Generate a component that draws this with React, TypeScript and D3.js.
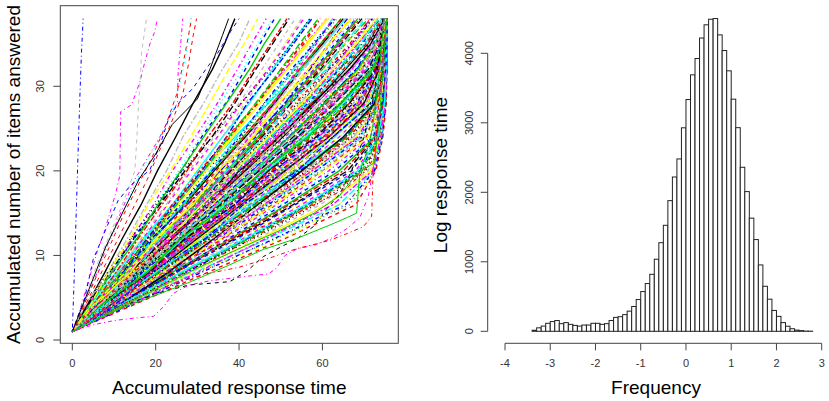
import React from "react";
import * as d3 from "d3";

// ---------- Left panel data: accumulated response time per examinee ----------
// item counts at which each examinee's accumulated time is read
const ITEM_KNOTS = [1, 4, 8, 12, 16, 20, 24, 28, 32, 35, 38];
const START_TIME = 0;

// accumulated time (s) at items 4, 8, 12, 16, 20, 24, 28, 32, 35, 38
const FAST_TIMES: number[][] = [
  [3.4, 7.8, 12.0, 16.5, 20.4, 24.8, 29.0, 33.6, 36.5, 39.0],
  [3.0, 8.5, 13.2, 17.8, 22.6, 26.5, 31.5, 36.0, 39.8, 42.6],
  [4.2, 8.6, 13.8, 18.2, 23.5, 28.4, 33.0, 37.5, 41.2, 44.5],
  [3.6, 9.5, 14.2, 19.5, 24.0, 29.5, 34.8, 39.6, 43.0, 46.5],
  [4.5, 9.0, 15.0, 20.0, 25.5, 30.6, 35.5, 40.8, 44.5, 48.0],
  [3.8, 9.8, 14.5, 20.8, 26.2, 31.0, 36.8, 41.5, 45.0, 48.5],
  [4.0, 9.5, 15.5, 20.5, 26.0, 31.5, 37.0, 42.5, 46.0, 50.0],
  [4.8, 10.5, 15.8, 21.5, 27.5, 32.5, 38.5, 43.5, 47.5, 51.5],
  [3.5, 9.0, 14.8, 21.0, 27.0, 33.5, 39.0, 44.0, 48.0, 52.0],
  [5.0, 11.0, 16.5, 22.5, 28.0, 34.0, 40.0, 45.5, 49.5, 53.5],
  [4.2, 10.0, 16.8, 23.0, 29.5, 35.0, 41.0, 46.5, 51.0, 55.0],
  [5.5, 11.5, 17.0, 22.8, 28.5, 34.8, 40.5, 47.0, 51.5, 55.5],
  [4.5, 11.0, 17.5, 24.0, 30.0, 36.0, 42.5, 48.0, 52.5, 57.0],
  [6.0, 12.0, 18.0, 24.5, 31.0, 37.0, 42.0, 48.5, 53.0, 57.5],
  [4.8, 11.5, 18.5, 25.0, 31.5, 37.5, 44.0, 50.0, 54.5, 59.0],
  [5.2, 12.5, 18.0, 24.0, 30.5, 37.8, 44.5, 50.5, 55.0, 59.5],
  [3.5, 8.5, 14.0, 20.0, 26.5, 33.5, 40.5, 47.5, 52.5, 57.0],
  [6.5, 13.5, 19.5, 25.0, 30.5, 36.0, 41.5, 47.0, 51.0, 55.0],
];

const MEDIUM_TIMES: number[][] = [
  [5.0, 12.0, 19.0, 25.5, 32.0, 38.5, 45.0, 51.5, 56.5, 61.0],
  [5.8, 11.5, 18.0, 25.0, 31.5, 38.0, 44.0, 51.0, 56.0, 61.0],
  [4.5, 12.5, 19.5, 26.5, 33.0, 39.5, 46.5, 53.0, 58.0, 62.5],
  [5.5, 12.0, 18.5, 26.0, 33.5, 40.0, 46.0, 52.5, 58.0, 63.0],
  [6.2, 13.0, 20.0, 27.0, 33.5, 40.5, 47.0, 53.5, 58.5, 63.5],
  [5.0, 13.0, 20.5, 27.5, 34.5, 41.0, 48.0, 54.5, 59.5, 64.5],
  [6.0, 12.5, 19.5, 27.0, 34.0, 41.5, 48.5, 55.0, 60.0, 65.0],
  [5.5, 13.5, 21.0, 28.0, 35.0, 42.0, 49.0, 55.5, 60.5, 65.5],
  [4.8, 12.8, 20.5, 28.5, 36.0, 43.0, 49.5, 56.5, 61.5, 66.5],
  [6.5, 14.0, 21.5, 28.5, 35.5, 42.5, 50.0, 56.5, 62.0, 66.8],
  [5.2, 13.0, 21.5, 29.5, 36.5, 43.5, 50.5, 57.5, 62.5, 67.5],
  [6.0, 14.5, 22.0, 29.0, 36.5, 44.0, 51.0, 58.0, 63.0, 68.0],
  [5.0, 12.5, 20.5, 29.0, 37.0, 44.5, 51.5, 58.5, 63.5, 68.5],
  [6.8, 14.0, 21.5, 29.5, 37.5, 45.0, 52.0, 59.0, 64.0, 69.0],
  [5.5, 13.8, 22.5, 30.5, 38.0, 45.5, 52.5, 59.5, 64.5, 69.5],
  [6.2, 14.8, 22.8, 30.5, 38.5, 46.0, 53.0, 60.0, 65.0, 70.0],
  [5.0, 13.5, 22.0, 30.0, 38.0, 46.5, 53.5, 60.5, 65.5, 70.5],
  [7.0, 15.0, 23.0, 30.0, 36.5, 42.5, 48.5, 54.0, 58.5, 62.5],
  [4.0, 10.5, 17.0, 24.0, 31.5, 39.0, 47.0, 55.0, 60.5, 65.5],
  [5.8, 12.2, 19.0, 27.5, 35.5, 43.5, 51.0, 57.0, 61.5, 66.0],
  [6.0, 13.5, 21.5, 29.5, 37.5, 45.0, 52.5, 60.0, 65.5, 71.0],
  [5.5, 14.0, 22.0, 30.0, 38.0, 45.5, 53.5, 61.0, 66.5, 71.5],
  [6.5, 14.5, 22.5, 30.5, 38.5, 46.5, 54.0, 61.5, 67.0, 72.0],
  [5.8, 13.5, 22.0, 30.5, 38.5, 46.8, 54.5, 62.0, 67.5, 72.5],
  [6.2, 14.5, 23.0, 31.0, 39.0, 47.0, 55.0, 62.5, 68.0, 73.0],
  [5.5, 14.0, 22.5, 31.5, 40.0, 48.0, 55.5, 63.0, 68.5, 73.2],
  [7.0, 15.0, 23.0, 31.0, 39.5, 47.5, 56.0, 63.5, 69.0, 73.5],
  [6.0, 15.0, 23.5, 32.0, 40.5, 48.5, 56.5, 64.0, 69.5, 73.8],
  [6.5, 14.2, 22.8, 31.8, 40.0, 49.0, 57.0, 64.5, 70.0, 74.0],
  [5.8, 14.8, 24.0, 32.5, 41.0, 49.5, 57.5, 65.0, 70.5, 74.2],
  [7.2, 15.5, 24.0, 32.5, 41.0, 49.5, 58.0, 65.5, 71.0, 74.5],
  [6.0, 15.0, 24.5, 33.0, 42.0, 50.0, 58.5, 66.0, 71.2, 74.6],
  [6.8, 16.0, 24.5, 33.5, 42.0, 50.5, 58.5, 66.5, 71.5, 74.8],
  [5.5, 14.5, 23.8, 33.0, 42.5, 51.0, 59.5, 67.0, 71.8, 75.0],
  [7.5, 16.5, 25.0, 34.0, 42.5, 51.5, 60.0, 67.5, 72.0, 75.0],
  [6.2, 15.2, 24.5, 34.0, 43.0, 52.0, 60.5, 68.0, 72.2, 75.1],
  [6.8, 15.8, 25.5, 34.5, 43.5, 52.0, 60.5, 68.5, 72.5, 75.2],
  [5.8, 15.5, 25.0, 34.0, 43.8, 52.5, 61.0, 69.0, 72.8, 75.2],
  [7.0, 16.2, 25.8, 35.0, 44.0, 53.0, 61.5, 69.5, 73.0, 75.3],
  [6.5, 16.0, 25.0, 34.5, 44.5, 53.5, 62.0, 70.0, 73.2, 75.3],
  [8.0, 17.0, 25.5, 33.5, 41.0, 48.5, 55.5, 62.5, 67.5, 72.5],
  [5.0, 13.0, 21.5, 30.5, 39.5, 49.0, 58.5, 67.0, 72.0, 75.0],
  [6.0, 14.8, 24.2, 32.8, 41.0, 48.8, 57.2, 65.2, 70.2, 74.4],
  [7.8, 16.8, 25.2, 34.2, 43.2, 51.8, 60.2, 68.2, 72.6, 75.2],
  [6.4, 14.0, 22.2, 30.8, 39.6, 47.4, 55.8, 63.6, 69.2, 73.6],
];

const WIGGLY_TIMES: number[][] = [
  [5.5, 11.0, 18.5, 24.0, 31.5, 37.0, 44.5, 50.0, 55.5, 59.5],
  [4.2, 12.0, 18.0, 26.5, 32.0, 40.5, 46.0, 53.5, 57.5, 63.0],
  [6.5, 12.5, 21.0, 27.0, 35.5, 41.0, 49.0, 55.0, 60.5, 64.5],
  [5.0, 14.0, 20.0, 29.0, 35.0, 43.5, 49.5, 57.5, 61.5, 67.0],
  [6.8, 13.5, 22.5, 28.5, 37.5, 43.5, 52.5, 58.0, 64.0, 68.0],
  [5.2, 14.8, 21.0, 30.5, 37.0, 46.0, 52.0, 61.0, 65.0, 70.5],
  [7.0, 14.0, 23.5, 30.0, 39.5, 46.0, 55.0, 61.5, 67.5, 72.0],
  [5.5, 15.5, 22.0, 32.0, 38.5, 48.0, 54.5, 64.0, 68.5, 73.5],
  [7.5, 14.5, 24.5, 31.0, 41.0, 47.5, 57.0, 64.0, 70.5, 74.5],
  [5.8, 16.0, 23.0, 33.0, 40.0, 50.0, 57.5, 66.5, 71.5, 75.0],
  [7.8, 15.0, 25.5, 32.5, 42.5, 50.0, 59.5, 67.0, 72.5, 75.2],
  [6.0, 16.5, 24.0, 34.5, 42.0, 52.0, 59.5, 69.0, 73.0, 75.3],
  [8.0, 15.5, 26.5, 34.0, 44.5, 52.0, 62.0, 70.0, 73.8, 75.4],
  [6.2, 17.0, 25.0, 36.0, 43.5, 54.5, 62.0, 71.0, 74.0, 75.5],
  [8.5, 16.5, 27.5, 35.5, 46.5, 54.0, 64.5, 71.5, 74.3, 75.4],
  [6.5, 18.0, 26.0, 37.5, 45.5, 56.5, 64.5, 72.0, 74.5, 75.5],
  [8.8, 17.0, 28.5, 36.5, 48.0, 56.0, 66.5, 72.5, 74.7, 75.5],
  [6.8, 18.5, 27.0, 39.0, 47.0, 58.5, 66.5, 72.8, 74.9, 75.5],
  [9.0, 17.5, 29.5, 38.0, 50.0, 58.0, 68.5, 73.2, 75.0, 75.5],
  [7.0, 19.5, 28.0, 40.5, 49.0, 61.0, 69.0, 73.5, 75.1, 75.5],
  [9.5, 18.0, 30.5, 39.5, 52.0, 60.5, 70.5, 73.8, 75.2, 75.5],
  [7.2, 20.0, 29.0, 42.0, 50.5, 63.0, 71.0, 74.0, 75.3, 75.5],
  [9.8, 19.0, 32.0, 41.0, 54.0, 62.5, 72.0, 74.3, 75.3, 75.5],
  [7.5, 21.0, 30.5, 44.0, 53.0, 66.0, 72.5, 74.5, 75.4, 75.5],
  [10.0, 20.0, 33.5, 43.0, 57.0, 65.5, 73.0, 74.7, 75.4, 75.5],
  [8.0, 22.5, 32.0, 46.5, 56.0, 69.0, 73.3, 74.9, 75.4, 75.5],
  [10.5, 21.5, 35.5, 45.5, 60.0, 69.5, 73.6, 75.0, 75.5, 75.5],
  [4.8, 11.8, 17.5, 25.0, 30.8, 38.2, 44.0, 51.5, 56.0, 61.5],
  [6.0, 14.5, 23.5, 32.5, 41.0, 49.0, 56.0, 62.5, 67.0, 71.5],
  [7.0, 16.0, 25.5, 35.0, 44.0, 53.5, 63.0, 70.5, 73.8, 75.4],
  [8.0, 18.5, 28.0, 38.0, 48.5, 58.0, 67.5, 72.8, 74.8, 75.5],
  [8.5, 20.0, 31.0, 42.5, 53.5, 64.0, 72.0, 74.4, 75.3, 75.5],
  [5.5, 13.0, 20.5, 28.5, 36.0, 43.5, 51.0, 58.5, 63.5, 68.5],
  [6.5, 15.5, 24.0, 33.0, 41.5, 50.5, 58.5, 66.5, 71.5, 74.8],
  [6.2, 15.8, 25.5, 34.5, 43.5, 52.5, 61.5, 69.5, 73.0, 75.3],
  [7.5, 17.0, 27.0, 37.0, 46.5, 56.0, 66.0, 72.2, 74.5, 75.4],
  [8.2, 19.0, 29.5, 40.5, 51.0, 61.5, 70.5, 73.6, 75.1, 75.5],
  [9.2, 22.0, 34.5, 46.5, 58.0, 68.5, 73.2, 74.9, 75.4, 75.5],
  [11.0, 25.0, 39.5, 53.5, 67.0, 73.0, 74.7, 75.3, 75.5, 75.5],
  [5.8, 12.8, 19.5, 26.5, 33.5, 41.0, 48.0, 54.5, 59.5, 64.5],
];

const SLOW_TIMES: number[][] = [
  [7.0, 16.5, 25.5, 35.0, 44.5, 53.5, 62.5, 70.5, 73.5, 75.3],
  [6.5, 15.8, 25.8, 35.5, 44.8, 54.0, 63.0, 71.0, 73.8, 75.4],
  [7.5, 16.8, 26.5, 35.5, 45.0, 54.5, 63.5, 71.2, 74.0, 75.3],
  [6.8, 16.5, 26.0, 36.0, 45.5, 55.0, 64.0, 71.5, 74.2, 75.4],
  [7.2, 17.0, 27.0, 36.5, 46.0, 55.5, 64.5, 71.8, 74.0, 75.5],
  [8.0, 17.5, 26.8, 36.5, 46.5, 56.0, 65.0, 72.0, 74.5, 75.3],
  [6.5, 16.8, 27.0, 37.0, 47.0, 56.5, 65.5, 72.0, 74.3, 75.5],
  [7.5, 17.5, 27.5, 37.5, 47.0, 57.0, 66.0, 72.3, 74.6, 75.4],
  [8.2, 18.0, 27.8, 37.5, 47.5, 57.5, 66.5, 72.5, 74.5, 75.5],
  [7.0, 17.2, 27.5, 38.0, 48.0, 58.0, 67.0, 72.5, 74.8, 75.3],
  [7.8, 18.0, 28.5, 38.5, 48.5, 58.0, 67.5, 72.8, 74.6, 75.5],
  [6.8, 17.5, 28.0, 38.5, 49.0, 58.5, 68.0, 73.0, 74.8, 75.4],
  [7.5, 18.5, 28.5, 39.0, 49.0, 59.0, 68.5, 73.0, 74.9, 75.5],
  [8.5, 18.8, 29.0, 39.5, 49.5, 59.5, 68.8, 73.2, 74.7, 75.3],
  [7.2, 18.0, 29.0, 39.8, 50.0, 60.0, 69.0, 73.2, 75.0, 75.5],
  [8.0, 19.0, 29.5, 40.0, 50.5, 60.5, 69.5, 73.4, 74.8, 75.4],
  [7.0, 17.8, 28.8, 40.0, 51.0, 61.0, 69.8, 73.5, 75.0, 75.5],
  [8.8, 19.5, 30.0, 40.5, 51.0, 61.5, 70.0, 73.6, 75.1, 75.5],
  [7.8, 18.8, 30.0, 41.0, 51.5, 62.0, 70.5, 73.8, 75.0, 75.4],
  [8.5, 19.8, 30.5, 41.5, 52.0, 62.0, 70.8, 73.7, 75.2, 75.5],
  [9.0, 19.0, 28.5, 37.5, 46.0, 54.5, 62.8, 70.5, 73.5, 75.2],
  [6.0, 15.0, 24.5, 34.5, 45.0, 55.5, 65.5, 72.2, 74.4, 75.4],
  [7.6, 18.2, 28.2, 38.8, 48.4, 58.8, 68.2, 72.9, 74.7, 75.5],
  [7.4, 16.6, 26.2, 36.0, 45.8, 55.2, 64.2, 71.6, 74.1, 75.3],
  [8.4, 18.6, 29.2, 39.6, 50.2, 60.2, 69.2, 73.3, 74.9, 75.5],
  [8.0, 19.0, 30.0, 41.5, 52.0, 62.5, 71.5, 74.0, 75.0, 75.5],
  [8.8, 20.0, 30.5, 41.0, 52.5, 63.0, 71.8, 74.2, 75.1, 75.5],
  [7.5, 19.5, 31.0, 42.0, 53.0, 64.0, 72.0, 74.3, 75.2, 75.5],
  [9.0, 20.5, 31.5, 42.5, 53.5, 64.0, 72.2, 74.5, 75.3, 75.5],
  [8.2, 20.0, 31.5, 43.0, 54.0, 65.0, 72.3, 74.4, 75.2, 75.5],
  [9.5, 21.0, 32.0, 43.5, 54.5, 65.5, 72.5, 74.6, 75.3, 75.5],
  [8.0, 20.5, 32.5, 44.0, 55.0, 66.0, 72.6, 74.5, 75.2, 75.5],
  [9.2, 21.5, 33.0, 44.5, 55.5, 66.5, 72.8, 74.7, 75.4, 75.5],
  [8.5, 21.0, 33.0, 45.0, 56.5, 67.0, 72.9, 74.8, 75.3, 75.5],
  [10.0, 22.0, 33.5, 45.0, 56.5, 67.5, 73.0, 74.8, 75.4, 75.5],
  [8.8, 21.5, 34.0, 46.0, 57.5, 68.0, 73.1, 74.9, 75.3, 75.5],
  [9.5, 22.5, 34.5, 46.0, 57.5, 68.5, 73.2, 75.0, 75.4, 75.5],
  [8.2, 21.0, 33.8, 46.5, 58.5, 69.0, 73.3, 74.9, 75.4, 75.5],
  [10.2, 23.0, 35.0, 47.0, 58.5, 69.5, 73.4, 75.0, 75.3, 75.5],
  [9.0, 22.5, 35.5, 47.5, 59.5, 70.0, 73.5, 75.1, 75.4, 75.5],
  [9.8, 23.5, 36.0, 48.0, 60.0, 70.5, 73.6, 75.0, 75.4, 75.5],
  [11.0, 23.0, 34.0, 44.5, 55.0, 65.0, 72.5, 74.6, 75.3, 75.5],
  [7.0, 18.5, 30.5, 43.0, 55.5, 67.5, 73.0, 74.8, 75.4, 75.5],
];

const SLOWEST_TIMES: number[][] = [
  [9.5, 22.5, 35.5, 48.5, 60.5, 71.0, 73.8, 75.1, 75.4, 75.5],
  [10.0, 23.5, 36.5, 49.0, 61.5, 71.5, 74.0, 75.2, 75.4, 75.5],
  [9.0, 23.0, 36.5, 50.0, 62.5, 72.0, 74.2, 75.1, 75.4, 75.5],
  [10.5, 24.5, 37.5, 50.5, 63.0, 72.2, 74.3, 75.2, 75.5, 75.5],
  [9.8, 24.0, 38.0, 51.5, 64.0, 72.5, 74.4, 75.2, 75.4, 75.5],
  [11.0, 25.0, 38.5, 52.0, 65.0, 72.7, 74.5, 75.3, 75.5, 75.5],
  [10.0, 24.5, 39.0, 53.0, 66.0, 72.8, 74.6, 75.2, 75.4, 75.5],
  [11.5, 26.0, 40.0, 53.5, 66.5, 73.0, 74.7, 75.3, 75.5, 75.5],
  [10.5, 25.5, 40.5, 54.5, 67.5, 73.1, 74.8, 75.3, 75.4, 75.5],
  [12.0, 27.0, 41.0, 55.0, 68.0, 73.2, 74.8, 75.4, 75.5, 75.5],
  [10.8, 26.0, 41.5, 56.0, 68.5, 73.3, 74.9, 75.3, 75.5, 75.5],
  [11.8, 27.5, 42.0, 56.5, 69.0, 73.4, 75.0, 75.4, 75.5, 75.5],
  [11.0, 26.5, 42.5, 57.0, 69.5, 73.5, 74.9, 75.3, 75.5, 75.5],
  [12.5, 28.0, 43.0, 57.5, 70.0, 73.6, 75.0, 75.4, 75.5, 75.5],
  [11.5, 27.0, 43.5, 58.5, 70.5, 73.6, 74.9, 75.3, 75.5, 75.5],
  [12.5, 28.5, 44.5, 59.5, 71.0, 73.8, 75.0, 75.4, 75.5, 75.5],
  [11.8, 28.0, 45.0, 61.0, 71.5, 73.9, 75.1, 75.4, 75.5, 75.5],
  [13.0, 30.0, 46.5, 62.5, 72.0, 74.0, 75.1, 75.4, 75.5, 75.5],
  [12.2, 29.5, 47.0, 64.0, 72.2, 74.2, 75.2, 75.5, 75.5, 75.5],
  [13.5, 31.0, 48.5, 65.5, 72.5, 74.3, 75.2, 75.4, 75.5, 75.5],
  [12.8, 30.5, 49.0, 66.5, 72.6, 74.4, 75.3, 75.5, 75.5, 75.5],
  [14.0, 32.5, 51.0, 68.0, 72.8, 74.5, 75.3, 75.5, 75.5, 75.5],
];

// irregular examinees, as (time, items) pairs
const OUTLIER_PATHS: [number, number][][] = [
  [[0, 1], [0.5, 8], [1.0, 16], [1.5, 24], [1.9, 30], [2.2, 34], [2.6, 38]],
  [[0, 1], [1.5, 3], [3, 5.5], [4.5, 8], [6, 10.5], [7.5, 12.5], [9, 15], [10.5, 17.5], [11.4, 19.5], [11.6, 27], [14.2, 27.8], [16.2, 30.5], [17.2, 32.5], [18.6, 35], [19.8, 36.5], [20.4, 38]],
  [[0, 1], [3, 5], [6, 9], [9, 12.5], [12, 16], [15, 20], [15.5, 24], [15.9, 28], [16.4, 31.5], [16.6, 34], [17.2, 36], [17.8, 38]],
  [[0, 1], [3, 4.5], [6, 8], [9, 12], [12, 15.5], [15, 19], [18, 21.5], [21, 24], [23.5, 26.5], [25.2, 28], [25.4, 31.7], [26, 35], [26.5, 38]],
  [[0, 1], [4, 5.5], [8, 10], [12, 14.5], [16, 18.5], [19.5, 22], [22.5, 25.5], [25, 29], [26.5, 32.5], [27.5, 35], [28.6, 38]],
  [[0, 1], [4, 6], [8, 10.5], [12, 15], [16, 19.5], [20, 23], [23, 26], [25.5, 29.5], [27, 33], [28, 36], [28.3, 38]],
  [[0, 1], [5, 6], [10, 11], [14, 15], [18, 19], [21, 22.5], [24, 26], [26.5, 29], [28, 33], [29, 36], [29.8, 38]],
  [[0, 1], [3, 5], [5, 9.5], [8.3, 13.4], [11, 16.5], [14, 18.3], [18.6, 20.1], [21, 23], [23.4, 26.6], [26, 28.3], [29, 29.8], [32, 32], [34.6, 33.7], [38, 36.5], [40, 38]],
  [[0, 1], [4, 6], [8, 11], [12, 15], [16, 19], [20, 22], [24, 25.5], [27, 27], [30, 28.5], [33, 32], [36, 36], [37.5, 38]],
  [[0, 1], [6, 2.5], [12, 4], [20, 5.5], [28, 6.5], [37.8, 6.9], [42, 8.2], [45.8, 9.85], [50, 11], [54, 12], [57.8, 13.4], [61, 15.5], [64.2, 17.3], [67, 20], [70, 24], [72, 28], [73.5, 33], [74.5, 38]],
  [[0, 1], [5, 1.8], [10, 2.3], [15, 2.6], [19.5, 2.8], [22, 4], [24.2, 5.5], [28, 6.5], [33, 7], [38, 7.3], [43, 7.6], [47, 7.8], [49, 8.5], [51, 10], [54, 10.8], [58, 11.2], [62, 12], [66, 13.2], [69, 14.5], [71, 17], [72.5, 21], [73.5, 28], [74.5, 34], [75.3, 38]],
  [[0, 1], [6, 2.8], [12, 4.2], [18, 5.5], [25, 6.8], [32, 7.8], [40, 8.6], [48, 9.8], [53.8, 10.8], [58, 11.3], [61.8, 11.8], [66, 12.6], [69.8, 13.4], [71.8, 14.6], [72.2, 20.5], [73, 26], [74, 32], [75, 38]],
  [[0, 1], [6, 2.5], [12, 3.8], [20, 5.3], [28, 6.8], [37.8, 8.9], [45.8, 10.7], [53.8, 12.0], [61.8, 13.6], [66, 14.5], [68.2, 15], [68.6, 17.5], [69, 20], [70.5, 22], [72, 25], [73.5, 31], [74.8, 38]],
  [[0, 1], [8, 3], [16, 5], [24, 6.8], [32, 8.5], [40, 10], [48, 11.5], [55, 13], [62, 15.5], [67, 17], [71, 18.5], [72.5, 22], [73.5, 29], [74.5, 35], [75.2, 38]],
  [[0, 1], [8, 3.5], [16, 5.5], [24, 7.2], [32, 8.8], [40, 10.5], [48, 12.5], [56, 14.5], [62, 16.5], [66, 18], [70, 20.5], [72, 24], [73.5, 30], [75, 38]],
  [[0, 1], [7, 3.5], [14, 5.5], [22, 7.8], [30, 9.8], [38, 11.5], [46, 13.2], [54, 15.5], [62, 18], [68, 20], [71, 21.5], [72.8, 26], [74, 32], [75.3, 38]],
  [[0, 1], [6, 3], [14, 5.8], [22, 8], [30, 10.2], [38, 12], [46, 13.5], [54, 15], [60, 16.5], [66, 18], [70, 20], [72.5, 21.5], [73.5, 28], [74.5, 34], [75.4, 38]],
  [[0, 1], [10, 3.5], [20, 6], [30, 8.5], [40, 10.8], [50, 13], [58, 15], [64, 17], [68, 19.5], [71, 20.5], [72.5, 21], [73.8, 27], [74.7, 33], [75.4, 38]],
];
// colour index and line type index of each irregular examinee
const OUTLIER_COLOR = [3, 5, 7, 5, 1, 4, 1, 3, 0, 0, 5, 1, 2, 6, 7, 4, 1, 2];
const OUTLIER_LTY = [3, 3, 1, 3, 1, 2, 1, 1, 0, 1, 3, 3, 0, 1, 2, 2, 1, 0];

const LEFT_X_TICKS = [0, 20, 40, 60];
const LEFT_Y_TICKS = [0, 10, 20, 30];

// ---------- Right panel data: histogram of log response time ----------
const HIST_START = -4.1;
const HIST_BIN = 0.1;
const HIST_COUNTS = [
  0, 0, 0, 0, 0, 0, 0,
  15, 50, 75, 115, 140, 155, 110, 125, 100, 85,
  75, 90, 90, 115, 115, 100, 110, 155, 200, 210,
  240, 290, 357, 457, 572, 687, 820, 1037, 1275, 1525,
  1880, 2220, 2480, 2928, 3335, 3690, 3925, 4220, 4410, 4490,
  4500, 4265, 4040, 3748, 3340, 2930, 2360, 2010, 1628, 1320,
  955, 648, 462, 300, 215, 125, 73, 37, 17, 10,
  3, 2,
];
const RIGHT_X_TICKS = [-4, -3, -2, -1, 0, 1, 2, 3];
const RIGHT_Y_TICKS = [0, 1000, 2000, 3000, 4000];

const PALETTE = ["#000000", "#FF0000", "#00CD00", "#0000FF", "#00FFFF", "#FF00FF", "#FFFF00", "#BEBEBE"];
const LTY = [null, "4,4", "1,3", "1,3,4,3", "7,3", "2,2,6,2"];

const FONT = "'Liberation Sans', Arial, sans-serif";
const AXIS = "#444";
const LABEL = "#333";

export default function App() {
  // left panel scales
  const xL = d3.scaleLinear().domain([-2.88, 78.2]).range([60.3, 398.3]);
  const yL = d3.scaleLinear().domain([-0.39, 39.53]).range([343.3, 5.7]);
  // right panel scales
  const xR = d3.scaleLinear().domain([-4, 3]).range([505, 821.7]);
  const yR = d3.scaleLinear().domain([0, 4000]).range([331.3, 53.3]);

  const line = d3
    .line<[number, number]>()
    .x((d) => xL(d[0]))
    .y((d) => yL(d[1]));

  const band = [...FAST_TIMES, ...MEDIUM_TIMES, ...WIGGLY_TIMES, ...SLOW_TIMES, ...SLOWEST_TIMES];
  const N = band.length;
  const stride = 71; // interleave the draw order so colours mix across the band
  const order = d3.range(N).map((i) => (i * stride) % N);
  const bandPaths = order.map((idx, k) => {
    const times = [START_TIME, ...band[idx]];
    const pts: [number, number][] = times.map((t, j) => [t, ITEM_KNOTS[j]]);
    return { d: line(pts) || "", color: PALETTE[k % 8], dash: LTY[k % 6] };
  });

  const bins = HIST_COUNTS.map((c, i) => ({
    x0: HIST_START + i * HIST_BIN,
    x1: HIST_START + (i + 1) * HIST_BIN,
    c,
  }));

  return (
    <svg
      width={829}
      height={401}
      style={{ position: "absolute", left: 0, top: 0, background: "#fff" }}
      fontFamily={FONT}
    >
      <rect x={0} y={0} width={829} height={401} fill="#fff" />
      {/* ---------- left panel ---------- */}
      <g>
        {bandPaths.map((p, i) => (
          <path
            key={"b" + i}
            d={p.d}
            fill="none"
            stroke={p.color}
            strokeWidth={1.4}
            strokeDasharray={p.dash || undefined}
          />
        ))}
        {OUTLIER_PATHS.map((pts, i) => (
          <path
            key={"o" + i}
            d={line(pts) || ""}
            fill="none"
            stroke={PALETTE[OUTLIER_COLOR[i]]}
            strokeWidth={1}
            strokeDasharray={LTY[OUTLIER_LTY[i]] || undefined}
          />
        ))}
        <rect
          x={xL(-2.88)}
          y={yL(39.53)}
          width={xL(78.2) - xL(-2.88)}
          height={yL(-0.39) - yL(39.53)}
          fill="none"
          stroke={AXIS}
          strokeWidth={1}
        />
        {LEFT_X_TICKS.map((t) => (
          <g key={"lx" + t}>
            <line x1={xL(t)} x2={xL(t)} y1={343.3} y2={350.3} stroke={AXIS} />
            <text x={xL(t)} y={363} textAnchor="middle" dominantBaseline="central" fontSize={11} fill={LABEL}>
              {t}
            </text>
          </g>
        ))}
        {LEFT_Y_TICKS.map((t) => (
          <g key={"ly" + t}>
            <line x1={53.3} x2={60.3} y1={yL(t)} y2={yL(t)} stroke={AXIS} />
            <text
              transform={`translate(40,${yL(t)}) rotate(-90)`}
              textAnchor="middle"
              dominantBaseline="central"
              fontSize={11}
              fill={LABEL}
            >
              {t}
            </text>
          </g>
        ))}
        <text x={229.3} y={387} textAnchor="middle" dominantBaseline="central" fontSize={19} fill="#000">
          Accumulated response time
        </text>
        <text
          transform={`translate(13,${174.5}) rotate(-90)`}
          textAnchor="middle"
          dominantBaseline="central"
          fontSize={19}
          fill="#000"
        >
          Accumulated number of items answered
        </text>
      </g>

      {/* ---------- right panel ---------- */}
      <g>
        {bins.map((b, i) => (
          <rect
            key={"h" + i}
            x={xR(b.x0)}
            y={yR(b.c)}
            width={xR(b.x1) - xR(b.x0)}
            height={yR(0) - yR(b.c)}
            fill="#fff"
            stroke="#222"
            strokeWidth={1}
          />
        ))}
        <line x1={xR(-4)} x2={xR(3)} y1={343.3} y2={343.3} stroke={AXIS} />
        {RIGHT_X_TICKS.map((t) => (
          <g key={"rx" + t}>
            <line x1={xR(t)} x2={xR(t)} y1={343.3} y2={350.3} stroke={AXIS} />
            <text x={xR(t)} y={363} textAnchor="middle" dominantBaseline="central" fontSize={11} fill={LABEL}>
              {t}
            </text>
          </g>
        ))}
        <line x1={487.7} x2={487.7} y1={yR(0)} y2={yR(4000)} stroke={AXIS} />
        {RIGHT_Y_TICKS.map((t) => (
          <g key={"ry" + t}>
            <line x1={480.7} x2={487.7} y1={yR(t)} y2={yR(t)} stroke={AXIS} />
            <text
              transform={`translate(469,${yR(t)}) rotate(-90)`}
              textAnchor="middle"
              dominantBaseline="central"
              fontSize={11}
              fill={LABEL}
            >
              {t}
            </text>
          </g>
        ))}
        <text x={656} y={387} textAnchor="middle" dominantBaseline="central" fontSize={19} fill="#000">
          Frequency
        </text>
        <text
          transform={`translate(440,175) rotate(-90)`}
          textAnchor="middle"
          dominantBaseline="central"
          fontSize={19}
          fill="#000"
        >
          Log response time
        </text>
      </g>
    </svg>
  );
}
